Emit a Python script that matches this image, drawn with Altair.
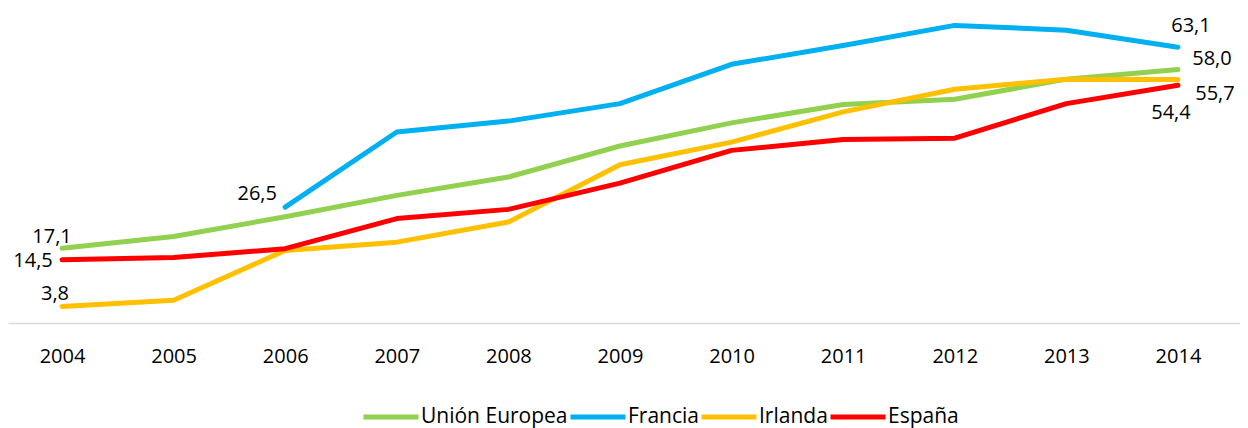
import altair as alt
import pandas as pd

years = list(range(2004, 2015))
series_names = ["Unión Europea", "Francia", "Irlanda", "España"]
colors = ["#92D050", "#00B0F0", "#FFC000", "#FF0000"]

ue = [17.1, 19.8, 24.3, 29.2, 33.4, 40.5, 45.8, 50.0, 51.2, 55.8, 58.0]
francia = [None, None, 26.5, 43.7, 46.2, 50.2, 59.2, 63.5, 68.1, 67.0, 63.1]
irlanda = [3.8, 5.2, 16.6, 18.5, 23.1, 36.2, 41.4, 48.3, 53.5, 55.8, 55.7]
espana = [14.5, 15.0, 17.0, 23.9, 26.0, 32.0, 39.5, 42.0, 42.3, 50.2, 54.4]

all_series = [ue, francia, irlanda, espana]

rows = []
for i, (name, vals) in enumerate(zip(series_names, all_series)):
    for yr, v in zip(years, vals):
        if v is not None:
            rows.append({"year": yr, "value": v, "serie": name, "k": i})
df = pd.DataFrame(rows)

FONT = "Open Sans"

x_scale = alt.Scale(domain=[2003.516, 2014.556], nice=False, zero=False)
y_scale = alt.Scale(domain=[0, 72.08], nice=False, zero=True)
x_axis = alt.Axis(values=years, format="d", title=None, ticks=False, grid=False,
                  domainColor="#D9D9D9", domainWidth=1.5,
                  labelFont=FONT, labelFontSize=20, labelColor="#000000",
                  labelPadding=23)

lines = alt.Chart(df).mark_line(strokeWidth=5, strokeCap="round", strokeJoin="round").encode(
    x=alt.X("year:Q", scale=x_scale, axis=x_axis),
    y=alt.Y("value:Q", scale=y_scale, axis=None),
    color=alt.Color("serie:N",
                    scale=alt.Scale(domain=series_names, range=colors),
                    sort=series_names,
                    legend=alt.Legend(title=None, orient="none", direction="horizontal",
                                      legendX=353, legendY=379,
                                      symbolType="stroke", symbolStrokeWidth=5, symbolSize=3025,
                                      labelFont=FONT, labelFontSize=21, labelColor="#000000",
                                      labelOffset=0, columnPadding=-8, padding=0)),
    order=alt.Order("k:Q"),
)


def label(vals, idx, dx, dy):
    v = vals[idx]
    d = pd.DataFrame([{"year": years[idx], "value": v,
                       "txt": f"{v:.1f}".replace(".", ",")}])
    return alt.Chart(d).mark_text(dx=dx, dy=dy, align="center", baseline="middle",
                                  font=FONT, fontSize=20, color="#000000").encode(
        x=alt.X("year:Q", scale=x_scale, axis=x_axis),
        y=alt.Y("value:Q", scale=y_scale, axis=None),
        text="txt:N",
    )


labels = [
    label(ue, 0, -10, -11),
    label(espana, 0, -29, 1),
    label(irlanda, 0, -7, -12),
    label(francia, 2, -28, -13),
    label(francia, 10, 13, -21),
    label(ue, 10, 34, -11),
    label(irlanda, 10, 37, 14),
    label(espana, 10, -7, 28),
]

chart = alt.layer(lines, *labels).properties(
    width=1232, height=315,
    autosize=alt.AutoSizeParams(type="none"),
    padding={"left": 0, "top": 0, "right": 0, "bottom": 105},
).configure_view(stroke=None)

chart.save("out.html", embed_options={"renderer": "svg", "actions": False})
